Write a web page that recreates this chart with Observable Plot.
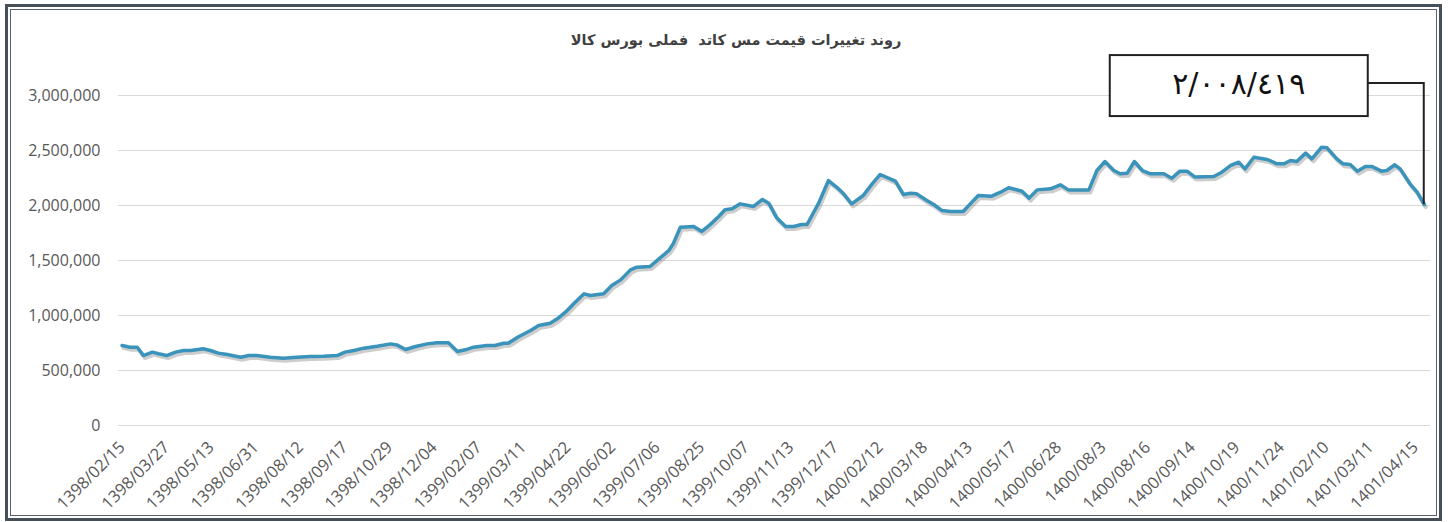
<!DOCTYPE html>
<html><head><meta charset="utf-8">
<script src="https://cdn.jsdelivr.net/npm/d3@7"></script>
<script src="https://cdn.jsdelivr.net/npm/@observablehq/plot@0.6"></script>
<style>
body{margin:0;background:#fff;width:1448px;height:522px;overflow:hidden;position:relative;font-family:"Open Sans",sans-serif}
#frame{position:absolute;left:5px;top:4px;width:1437px;height:517px;box-sizing:border-box;border:3px solid #465059;pointer-events:none;z-index:2}
#frame::after{content:"";position:absolute;left:2px;top:2px;right:2px;bottom:2px;border:1px solid #59616a}
#title{position:absolute;left:0;width:1472px;top:31px;line-height:18px;text-align:center;font-weight:bold;font-size:14.5px;font-family:"DejaVu Sans",sans-serif;color:#404040;direction:rtl}
#chart{position:absolute;left:0;top:50px}
</style></head><body>
<div id="frame"></div>
<div id="title">روند تغییرات قیمت مس کاتد&nbsp; فملی بورس کالا</div>
<div id="chart"></div>
<script>
// week index since 1398/02/15 (weekly observations) and cathode copper price
const weeks = [0.0,0.9,1.7,2.4,3.4,4.1,5.0,6.0,6.9,7.7,9.1,9.9,10.8,11.8,13.3,14.2,15.1,16.6,18.1,19.6,21.1,22.6,24.1,25.0,26.0,27.1,28.6,30.1,30.8,31.8,32.9,34.2,35.3,36.6,37.6,38.5,39.4,40.9,41.8,42.8,43.3,44.5,45.8,46.7,
48.0,48.8,49.9,50.8,51.8,52.5,54.0,54.9,55.9,57.0,57.7,59.2,60.2,61.3,61.8,62.6,64.1,65.0,65.9,66.9,67.6,68.4,69.3,70.8,71.8,72.5,73.4,74.4,75.3,76.2,76.8,78.1,79.2,80.2,80.9,81.8,83.1,84.1,85.0,86.7,87.6,88.4,89.1,90.1,91.0,91.9,92.9,94.3,95.1,96.0,97.5,98.5,
99.4,100.9,101.7,102.6,104.1,105.2,106.1,108.4,109.3,110.2,111.2,111.9,112.7,113.5,114.4,115.3,116.8,117.7,118.6,119.4,120.3,122.4,123.3,124.3,125.2,125.9,126.9,128.4,129.5,130.3,131.0,131.7,132.7,133.4,134.5,135.1,136.2,136.9,137.7,138.5,139.4,140.1,141.2,141.8,142.7,143.3,144.4,145.2,146.0];
const prices = [727000,712000,712000,636000,667000,652000,636000,667000,682000,682000,697000,682000,658000,645000,621000,636000,636000,621000,612000,621000,627000,630000,636000,667000,682000,703000,721000,742000,733000,691000,718000,742000,752000,752000,673000,688000,712000,727000,727000,748000,748000,809000,864000,909000,
930000,970000,1045000,1121000,1197000,1182000,1197000,1273000,1324000,1415000,1439000,1445000,1515000,1591000,1652000,1803000,1809000,1764000,1824000,1900000,1961000,1970000,2015000,1991000,2055000,2021000,1888000,1809000,1809000,1827000,1827000,2021000,2227000,2161000,2106000,2015000,2091000,2197000,2282000,2221000,2100000,2112000,2106000,2052000,2009000,1955000,1945000,1945000,2015000,2091000,2085000,2121000,
2161000,2130000,2067000,2142000,2152000,2188000,2142000,2142000,2318000,2400000,2318000,2288000,2294000,2400000,2318000,2288000,2288000,2248000,2312000,2312000,2258000,2264000,2303000,2364000,2394000,2333000,2439000,2418000,2379000,2379000,2409000,2400000,2476000,2424000,2530000,2524000,2424000,2379000,2373000,2312000,2355000,2355000,2312000,2318000,2370000,2333000,2197000,2121000,2008419];
const tickLabels = ["1398/02/15","1398/03/27","1398/05/13","1398/06/31","1398/08/12","1398/09/17","1398/10/29","1398/12/04","1399/02/07","1399/03/11","1399/04/22","1399/06/02","1399/07/06","1399/08/25","1399/10/07","1399/11/13","1399/12/17","1400/02/12","1400/03/18","1400/04/13","1400/05/17","1400/06/28","1400/08/3","1400/08/16","1400/09/14","1400/10/19","1400/11/24","1401/02/10","1401/03/11","1401/04/15"];
const labelEvery = 5; // one date label every 5 weekly observations
const yTicks = [0,500000,1000000,1500000,2000000,2500000,3000000];
const lastValueText = "٢/٠٠٨/٤١٩";

const data = weeks.map((w,i)=>({week:w, price:prices[i]}));
const tickWeeks = tickLabels.map((_,i)=>i*labelEvery);

const chart = Plot.plot({
  width:1448, height:470,
  marginTop:45, marginBottom:95, marginLeft:118, marginRight:18,
  style:{fontFamily:'"Open Sans", sans-serif', fontSize:"16px", color:"#595959", background:"transparent", overflow:"visible"},
  x:{domain:[-0.4,146.7], ticks:tickWeeks, tickSize:0, tickPadding:19, tickRotate:-45,
     tickFormat:d=>tickLabels[tickWeeks.indexOf(d)], label:null},
  y:{domain:[0,3000000], ticks:yTicks, tickSize:0, tickPadding:18, tickFormat:d3.format(","), label:null},
  marks:[
    Plot.ruleY(yTicks,{stroke:"#d9d9d9", strokeWidth:1}),
    Plot.line(data,{x:"week",y:"price",stroke:"#6f6f6f",strokeOpacity:0.35,strokeWidth:4,dx:1.5,dy:2.5}),
    Plot.line(data,{x:"week",y:"price",stroke:"#3a93bb",strokeWidth:3.5,strokeLinejoin:"round"})
  ]
});
// slightly larger date labels, as in the reference
d3.select(chart).selectAll("g[aria-label='x-axis'] text, g[aria-label='x-axis tick label'] text").style("font-size","16.5px");
document.getElementById("chart").appendChild(chart);

// annotation of the last value, positioned from the plot's own scales
const sxd = chart.scale("x"), syd = chart.scale("y");
const fx = d3.scaleLinear(sxd.domain, sxd.range), fy = d3.scaleLinear(syd.domain, syd.range);
const ex = fx(weeks[weeks.length-1]), ey = fy(prices[prices.length-1]);
const svg = d3.select(chart);
const g = svg.append("g");
g.append("rect").attr("x", ex-314).attr("y", ey-149).attr("width",258).attr("height",61)
  .attr("fill","#fff").attr("stroke","#222").attr("stroke-width",2);
g.append("text").attr("x", ex-185).attr("y", ey-121).attr("text-anchor","middle").attr("dominant-baseline","central")
  .attr("direction","ltr").style("font-family",'"DejaVu Sans", sans-serif').style("font-size","30px").attr("fill","#111")
  .text(lastValueText);
g.append("path").attr("d",`M${ex-56},${ey-121}H${ex}V${ey}`).attr("fill","none").attr("stroke","#222").attr("stroke-width",2);
</script>
</body></html>
